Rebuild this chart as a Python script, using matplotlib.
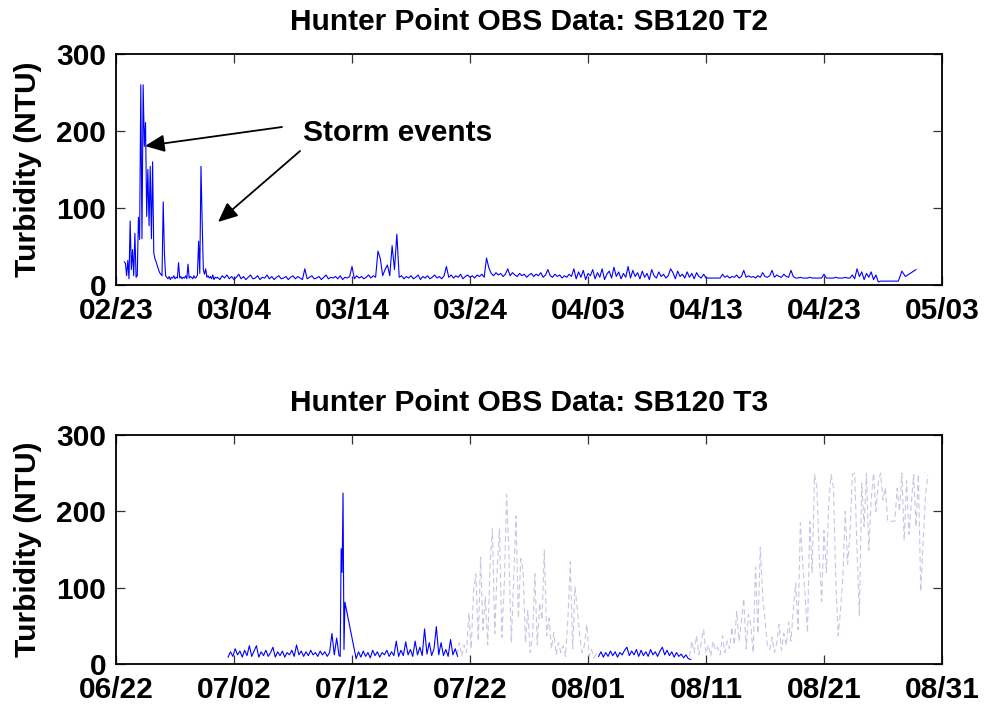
import numpy as np
import pandas as pd
import matplotlib
matplotlib.use("Agg")
import matplotlib.pyplot as plt
import matplotlib.dates as mdates

# data -----------------------------------------------------------------------------#
# sample times are given as (first day, step in days) counted from the origin date
t2_origin = "2004-02-23"
t3_origin = "2004-06-22"

t2_ticks = ["2004-02-23", "2004-03-04", "2004-03-14", "2004-03-24",
            "2004-04-03", "2004-04-13", "2004-04-23", "2004-05-03"]
t3_ticks = ["2004-06-22", "2004-07-02", "2004-07-12", "2004-07-22",
            "2004-08-01", "2004-08-11", "2004-08-21", "2004-08-31"]

# T2 deployment, storm period
t2_storm_time = (0.7, 0.1)
t2_storm = [30, 28, 12, 32, 8, 83, 20, 46, 12, 67,
            10, 12, 88, 59, 260, 60, 260, 180, 211, 89,
            150, 77, 154, 60, 160, 42, 34, 30, 25, 20,
            16, 14, 12, 108, 42, 12, 10, 8, 11, 7,
            10, 9, 12, 8, 10, 9, 29, 9, 11, 8,
            10, 9, 12, 8, 27, 9, 11, 10, 8, 12,
            9, 10, 13, 57, 15, 154, 83, 20, 14, 21,
            10, 12, 9, 11, 8, 13, 7, 10, 9]

# T2 deployment, rest of the record
t2_base_time = (8.6, 0.2)
t2_base = [10, 7, 12, 9, 13, 8, 11, 7, 10, 14,
           8, 11, 7, 10, 13, 8, 9, 12, 7, 10,
           9, 13, 8, 11, 7, 10, 12, 8, 9, 11,
           7, 10, 12, 8, 11, 9, 7, 21, 8, 10,
           12, 8, 9, 11, 7, 10, 13, 8, 10, 9,
           11, 8, 12, 7, 10, 9, 11, 24, 8, 12,
           9, 11, 8, 10, 13, 9, 12, 10, 44, 34,
           12, 20, 26, 12, 51, 20, 66, 10, 12, 8,
           11, 9, 12, 8, 10, 13, 7, 11, 9, 12,
           8, 10, 13, 9, 11, 8, 12, 24, 10, 13,
           9, 12, 10, 14, 8, 11, 13, 10, 12, 9,
           13, 11, 14, 10, 35, 22, 15, 12, 16, 13,
           15, 11, 14, 21, 12, 16, 13, 11, 15, 12,
           14, 10, 13, 15, 11, 14, 12, 16, 10, 13,
           20, 12, 10, 14, 11, 13, 9, 12, 10, 14,
           11, 21, 8, 17, 10, 19, 7, 15, 12, 20,
           8, 16, 10, 21, 7, 14, 18, 9, 23, 11,
           17, 8, 15, 10, 24, 9, 19, 11, 16, 8,
           18, 10, 15, 7, 20, 12, 9, 17, 11, 14,
           9, 12, 21, 16, 8, 18, 11, 14, 9, 17,
           10, 15, 8, 16, 11, 9, 14, 9, 9, 9,
           9, 9, 9, 9, 14, 10, 12, 9, 11, 10,
           13, 9, 11, 19, 10, 12, 10, 11, 9, 12,
           10, 16, 11, 10, 12, 19, 10, 13, 11, 10,
           14, 11, 10, 19, 11, 9, 9, 10, 9, 9,
           9, 10, 9, 9, 9, 9, 9, 14, 9, 9,
           9, 9, 10, 9, 9, 9, 10, 9, 9, 13,
           8, 21, 11, 17, 7, 15, 10, 17, 7, 13,
           4, 5]

t2_tail_time = (66.3, 0.3)
t2_tail = [5, 18, 11, 14, 17, 20]

# T3 deployment, good data (blue)
t3_a_time = (9.5, 0.2)
t3_a = [9, 16, 10, 20, 12, 17, 9, 18, 11, 24,
        10, 17, 24, 9, 16, 11, 18, 10, 15, 22,
        9, 16, 11, 17, 9, 15, 12, 18, 10, 25,
        12, 17, 10, 16, 11, 18, 12, 15, 10, 17,
        12, 16, 10, 15, 40, 12, 34, 11]

t3_spike_time = (19.0, 0.08)
t3_spike = [10, 151, 120, 224, 19, 81]

t3_b_time = (20.35, 0.2)
t3_b = [7, 16, 9, 17, 10, 15, 8, 18, 11, 16,
        9, 15, 12, 18, 10, 16, 11, 30, 10, 18,
        11, 29, 12, 19, 10, 30, 12, 22, 11, 46,
        13, 28, 11, 20, 49, 12, 28, 11, 19, 10,
        32, 12, 20, 10]

t3_c_time = (40.9, 0.2)
t3_c = [10, 16, 9, 15, 10, 17, 11, 16, 9, 15,
        12, 18, 22, 11, 17, 12, 19, 10, 18, 11,
        16, 10, 19, 12, 16, 10, 17, 22, 12, 18,
        11, 16, 9, 15, 10, 13, 8, 12, 7, 6]

# T3 deployment, suspect data (light dashed)
t3_bad1_time = (28.9, 0.2)
t3_bad1 = [12, 28, 10, 25, 15, 67, 20, 95, 118, 30,
           140, 45, 88, 25, 130, 177, 40, 123, 177, 35,
           101, 222, 144, 28, 110, 194, 60, 138, 123, 28,
           70, 15, 37, 118, 25, 80, 58, 149, 37, 60,
           20, 41, 12, 28, 15, 24, 10, 60, 134, 20,
           101, 71, 37, 15, 25, 52, 10, 19, 8, 13, 10]

t3_bad2_time = (48.6, 0.2)
t3_bad2 = [10, 30, 15, 37, 12, 28, 45, 14, 25, 10,
           30, 18, 22, 12, 37, 15, 30, 20, 48, 25,
           69, 30, 55, 86, 20, 65, 50, 15, 127, 40,
           153, 90, 58, 25, 19, 35, 15, 28, 52, 18,
           40, 24, 55, 30, 71, 106, 45, 185, 131, 90,
           41, 187, 120, 248, 231, 140, 82, 175, 120, 210,
           248, 231, 110, 37, 70, 114, 200, 131, 170, 248,
           250, 150, 63, 237, 180, 250, 149, 215, 250, 200,
           238, 250, 215, 231, 187, 187, 187, 187, 230, 200,
           250, 162, 240, 170, 210, 248, 180, 248, 95, 160,
           220, 248]


def to_series(origin, timing, vals):
    start, step = timing
    days = start + step * np.arange(len(vals))
    t = pd.Timestamp(origin) + pd.to_timedelta(days, unit="D")
    return t.to_numpy(), np.asarray(vals, dtype=float)


def join(*parts):
    return np.concatenate([p[0] for p in parts]), np.concatenate([p[1] for p in parts])


# style ----------------------------------------------------------------------------#
plt.rcParams['font.family'] = ['Liberation Sans', 'DejaVu Sans']
plt.rcParams['font.weight'] = 'bold'
plt.rcParams['axes.titleweight'] = 'bold'
plt.rcParams['axes.labelweight'] = 'bold'
FS = 21.5
BLUE = '#0000ff'
PALE = '#c6c6e4'


def style_axes(ax, ticks, title):
    tick_dates = pd.to_datetime(ticks)
    ax.set_xlim(tick_dates[0], tick_dates[-1])
    ax.set_xticks(tick_dates)
    ax.xaxis.set_major_formatter(mdates.DateFormatter('%m/%d'))
    ax.set_ylim(0, 300)
    ax.set_yticks([0, 100, 200, 300])
    ax.tick_params(direction='in', top=True, right=True, length=6.5, width=0.9,
                   color='#333333', labelsize=FS, pad=7)
    ax.tick_params(axis='x', pad=8.5)
    for s in ax.spines.values():
        s.set_linewidth(1.3)
    ax.set_ylabel('Turbidity (NTU)', fontsize=FS, labelpad=10)
    ax.set_title(title, fontsize=FS, pad=17.5)


fig = plt.figure(figsize=(9.84, 7.04), dpi=100)
ax1 = fig.add_axes([0.1179, 0.5952, 0.8394, 0.3281])
ax2 = fig.add_axes([0.1179, 0.0568, 0.8394, 0.3253])

# top panel
t2_t, t2_v = join(to_series(t2_origin, t2_storm_time, t2_storm),
                  to_series(t2_origin, t2_base_time, t2_base),
                  to_series(t2_origin, t2_tail_time, t2_tail))
ax1.plot(t2_t, t2_v, color=BLUE, lw=0.8)
style_axes(ax1, t2_ticks, 'Hunter Point OBS Data: SB120 T2')

ax1.text(0.2264, 0.658, 'Storm events', transform=ax1.transAxes, fontsize=FS,
         va='center', ha='left')
arrow = dict(arrowstyle='-|>,head_length=0.85,head_width=0.38', mutation_scale=14,
             color='k', lw=1.3, shrinkA=0, shrinkB=0)
ax1.annotate('', xy=(0.0351, 0.6017), xytext=(0.201, 0.684),
             xycoords='axes fraction', textcoords='axes fraction', arrowprops=arrow)
ax1.annotate('', xy=(0.1235, 0.2727), xytext=(0.2228, 0.580),
             xycoords='axes fraction', textcoords='axes fraction', arrowprops=arrow)

# bottom panel
for timing, vals in [(t3_bad1_time, t3_bad1), (t3_bad2_time, t3_bad2)]:
    t, v = to_series(t3_origin, timing, vals)
    ax2.plot(t, v, color=PALE, lw=0.8, linestyle=(0, (5, 3)))

t3_t, t3_v = join(to_series(t3_origin, t3_a_time, t3_a),
                  to_series(t3_origin, t3_spike_time, t3_spike),
                  to_series(t3_origin, t3_b_time, t3_b))
ax2.plot(t3_t, t3_v, color=BLUE, lw=0.8)
t, v = to_series(t3_origin, t3_c_time, t3_c)
ax2.plot(t, v, color=BLUE, lw=0.8)
style_axes(ax2, t3_ticks, 'Hunter Point OBS Data: SB120 T3')

fig.savefig('out.png', dpi=100)
